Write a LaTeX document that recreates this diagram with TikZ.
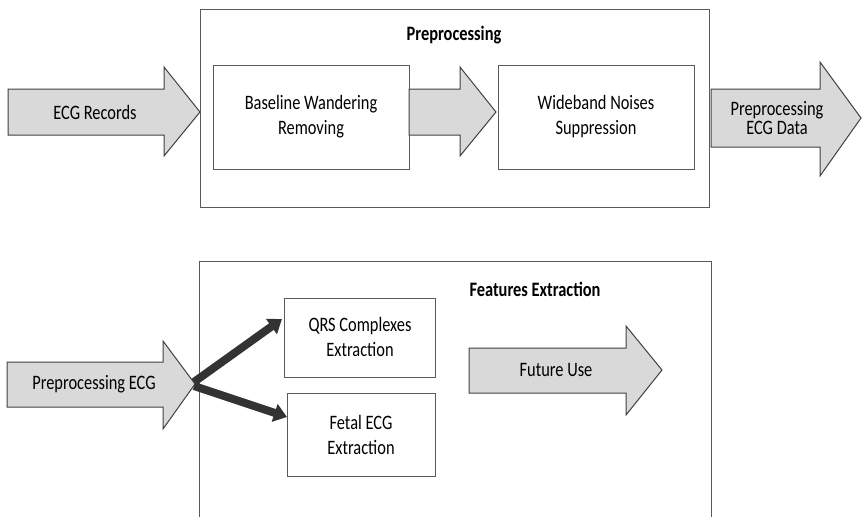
\documentclass[tikz,border=0pt]{standalone}
\usepackage{fontspec}
\setmainfont{Carlito}[FakeStretch=0.8]
\usetikzlibrary{arrows.meta}
\definecolor{arrfill}{HTML}{D9D9D9}
\definecolor{arrline}{HTML}{404040}
\definecolor{boxline}{HTML}{5A5A5A}
\definecolor{darkarr}{HTML}{333333}
\tikzset{
  blockarrow/.style={fill=arrfill, draw=arrline, line width=1pt, line join=miter},
  procbox/.style={draw=boxline, line width=0.9pt},
  frame/.style={draw=boxline, line width=0.9pt},
  lbl/.style={align=center, inner sep=0pt, font=\fontsize{20.5}{25}\selectfont, text=black},
  ttl/.style={inner sep=0pt, font=\fontsize{20.5}{25}\selectfont\bfseries, text=black},
  darrow/.style={draw=darkarr, line width=8pt, -{Triangle[length=13pt,width=18pt]}},
}
\begin{document}
\begin{tikzpicture}[x=1pt,y=-1pt]
\useasboundingbox (0,0) rectangle (862,517);
% ---------- top: Preprocessing ----------
\draw[frame] (200,9) rectangle (709,207);
\node[ttl] (t1) at (454,35) {Preprocessing};
\draw[blockarrow] (8,89) -- (164,89) -- (164,67) -- (200,112) -- (164,156) -- (164,135) -- (8,135) -- cycle;
\node[lbl] (ecgrec) at (95,112) {ECG Records};
\draw[procbox] (213,65) rectangle (409,169);
\node[lbl] (bwr) at (311,117) {Baseline Wandering\\Removing};
\draw[blockarrow] (409,89) -- (460,89) -- (460,67) -- (496,112) -- (460,156) -- (460,135) -- (409,135) -- cycle;
\draw[procbox] (498,65) rectangle (694,169);
\node[lbl] (wns) at (596,117) {Wideband Noises\\Suppression};
\draw[blockarrow] (711,89) -- (820,89) -- (820,62) -- (861,118) -- (820,176) -- (820,147) -- (711,147) -- cycle;
\node[lbl, font=\fontsize{20.5}{19}\selectfont] (ppd) at (777,118) {Preprocessing\\ECG Data};
% ---------- bottom: Features Extraction ----------
\coordinate (fbl) at (199,517);
\coordinate (ftl) at (199,261);
\coordinate (ftr) at (711,261);
\coordinate (fbr) at (711,517);
\draw[frame] (fbl) -- (ftl) -- (ftr) -- (fbr);
\node[ttl] (t2) at (535,289) {Features Extraction};
\draw[blockarrow] (7,362) -- (163,362) -- (163,341) -- (195,384) -- (163,429) -- (163,407) -- (7,407) -- cycle;
\node[lbl] (pecg) at (94,384) {Preprocessing ECG};
\draw[procbox] (284,298) rectangle (435,377);
\node[lbl] (qrs) at (360,337) {QRS Complexes\\Extraction};
\draw[procbox] (287,393) rectangle (435,476);
\node[lbl] (fecg) at (361,435) {Fetal ECG\\Extraction};
\draw[blockarrow] (469,348) -- (626,348) -- (626,326) -- (662,370) -- (626,415) -- (626,393) -- (469,393) -- cycle;
\node[lbl] (fu) at (556,370) {Future Use};
\coordinate (split1) at (194,382);
\coordinate (split2) at (194,386);
\coordinate (qrsin) at (282,319);
\coordinate (fecgin) at (287,417);
\draw[darrow] (split1) -- (qrsin);
\draw[darrow] (split2) -- (fecgin);
\end{tikzpicture}
\end{document}
